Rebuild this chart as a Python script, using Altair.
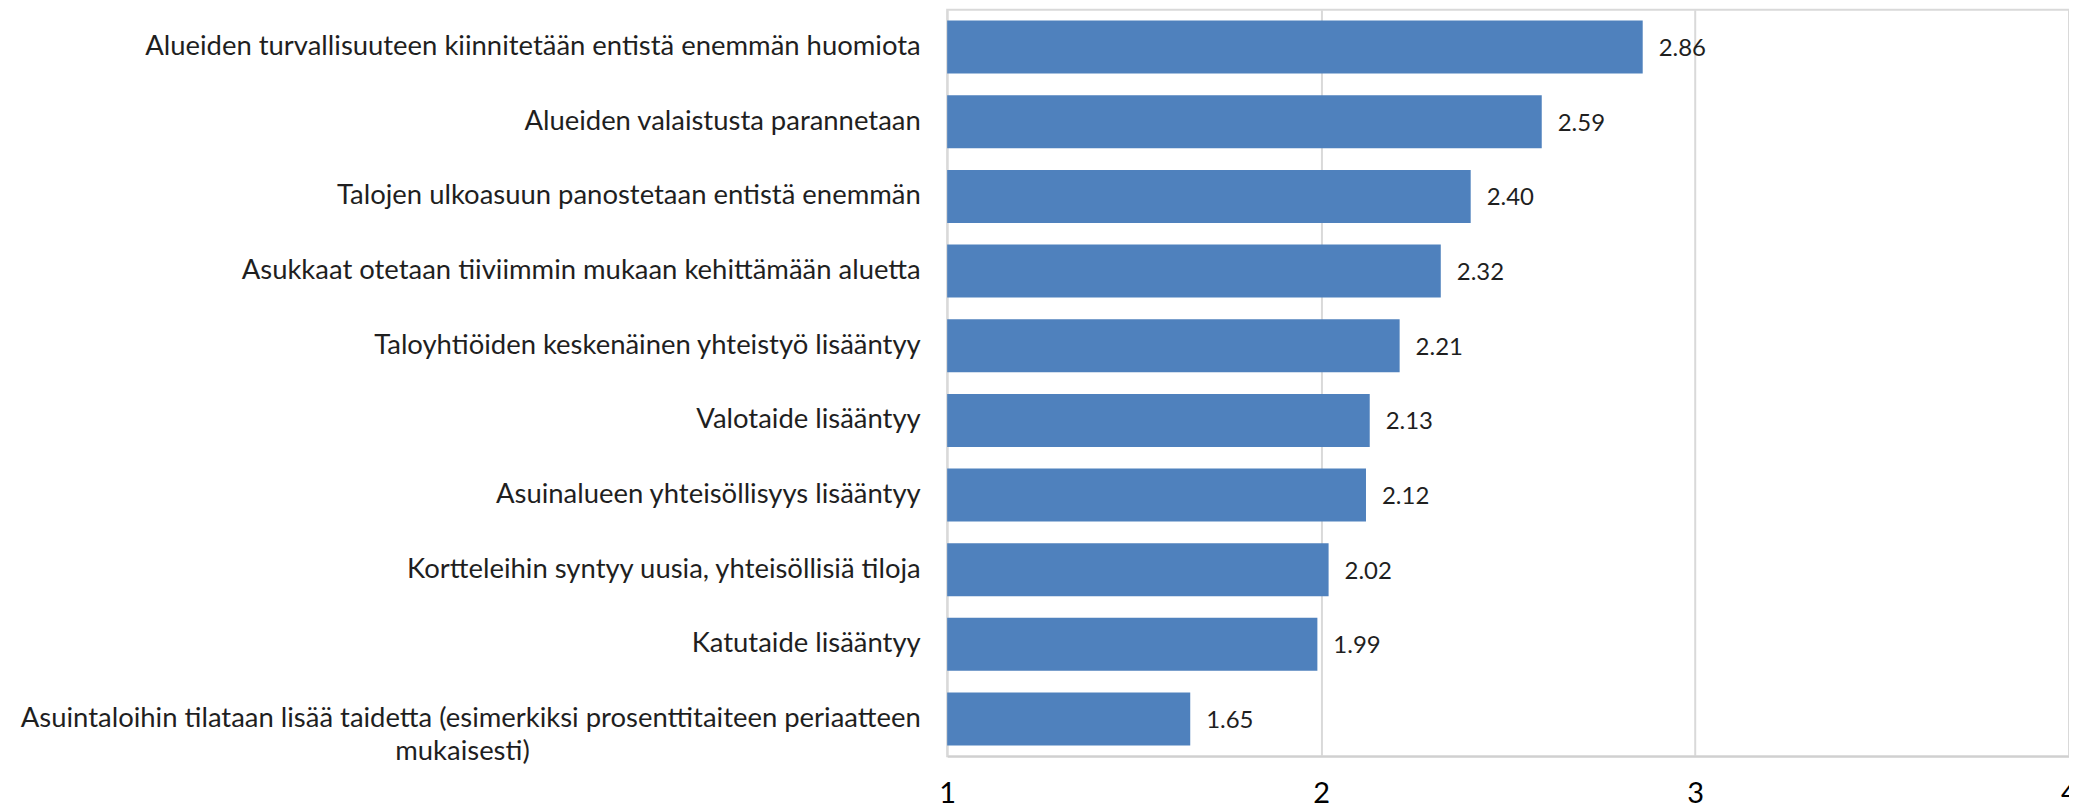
import altair as alt
import pandas as pd

PAD = "\u2003" * 19 + "\u2060"

categories = [
    "Alueiden turvallisuuteen kiinnitetään entistä enemmän huomiota",
    "Alueiden valaistusta parannetaan",
    "Talojen ulkoasuun panostetaan entistä enemmän",
    "Asukkaat otetaan tiiviimmin mukaan kehittämään aluetta",
    "Taloyhtiöiden keskenäinen yhteistyö lisääntyy",
    "Valotaide lisääntyy",
    "Asuinalueen yhteisöllisyys lisääntyy",
    "Kortteleihin syntyy uusia, yhteisöllisiä tiloja",
    "Katutaide lisääntyy",
    "Asuintaloihin tilataan lisää taidetta (esimerkiksi prosenttitaiteen periaatteen|mukaisesti)" + PAD,
]
values = [2.86, 2.59, 2.40, 2.32, 2.21, 2.13, 2.12, 2.02, 1.99, 1.65]
x_ticks = [1, 2, 3, 4]
axis_min = 1

df = pd.DataFrame({"category": categories, "value": values, "base": [axis_min] * len(values)})

FONT = "Lato"
TEXT = "#1f1f1f"

y_enc = alt.Y(
    "category:N",
    sort=None,
    title=None,
    scale=alt.Scale(paddingInner=0.29, paddingOuter=0.145),
    axis=alt.Axis(
        domain=False,
        ticks=False,
        grid=False,
        labelPadding=27,
        labelFontSize=27.5,
        labelFont=FONT,
        labelColor=TEXT,
        labelLimit=1200,
        labelLineHeight=33,
        labelExpr="split(datum.label, '|')",
    ),
)

x_scale = alt.Scale(domain=[1, 4], nice=False, zero=False)

bars = alt.Chart(df).mark_bar(color="#4f81bd").encode(
    x=alt.X(
        "value:Q",
        scale=x_scale,
        title=None,
        axis=alt.Axis(
            values=x_ticks,
            grid=True,
            gridColor="#d9d9d9",
            gridWidth=2,
            domain=True,
            domainColor="#d0d0d0",
            domainWidth=2,
            ticks=False,
            labelFontSize=29,
            labelFont=FONT,
            labelColor="#000000",
            labelBaseline="alphabetic",
            labelPadding=46,
            labelFlush=False,
            labelOverlap=False,
            labelBound=False,
            format="d",
        ),
    ),
    x2=alt.X2("base:Q"),
    y=y_enc,
)

labels = alt.Chart(df).mark_text(
    align="left", baseline="middle", dx=16, dy=2, fontSize=24, font=FONT, color=TEXT
).encode(
    x=alt.X("value:Q", scale=x_scale),
    y=alt.Y("category:N", sort=None),
    text=alt.Text("value:Q", format=".2f"),
)

chart = (
    alt.layer(bars, labels)
    .properties(
        width=1124,
        height=748,
        autosize=alt.AutoSizeParams(type="none"),
        padding={"left": 941, "top": 1, "right": 0, "bottom": 54},
        background="white",
    )
    .configure_view(stroke="#d9d9d9", strokeWidth=2)
)

chart.save("out.html", embed_options={"renderer": "svg", "actions": False})
